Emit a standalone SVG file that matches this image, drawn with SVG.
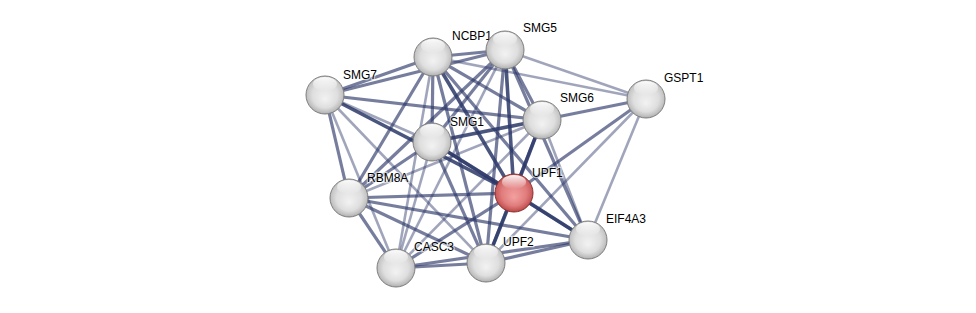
<svg xmlns="http://www.w3.org/2000/svg" width="976" height="313" viewBox="0 0 976 313">
<defs>
<radialGradient id="gGrey" cx="0.5" cy="0.42" r="0.6" fx="0.5" fy="0.62">
<stop offset="0" stop-color="#f2f2f2"/>
<stop offset="0.55" stop-color="#dedede"/>
<stop offset="0.88" stop-color="#b8b8b8"/>
<stop offset="1" stop-color="#8e8e8e"/>
</radialGradient>
<radialGradient id="gRed" cx="0.5" cy="0.42" r="0.6" fx="0.5" fy="0.62">
<stop offset="0" stop-color="#f3a0a0"/>
<stop offset="0.55" stop-color="#e07c7c"/>
<stop offset="0.88" stop-color="#c25050"/>
<stop offset="1" stop-color="#9c3434"/>
</radialGradient>
<linearGradient id="gHi" x1="0" y1="0" x2="0" y2="1">
<stop offset="0" stop-color="#ffffff" stop-opacity="0.95"/>
<stop offset="1" stop-color="#ffffff" stop-opacity="0"/>
</linearGradient>
</defs>
<style>
.e{stroke:#2c3868;fill:none;stroke-linecap:butt}
.s{stroke-width:3.6;stroke-opacity:0.85}
.m{stroke-width:3.2;stroke-opacity:0.65}
.w{stroke-width:2.6;stroke-opacity:0.45}
.node circle.b{stroke:#7e7e7e;stroke-width:1}
.node text{font-family:"Liberation Sans",Arial,sans-serif;font-size:12px;fill:#000}
.lbl{paint-order:stroke;stroke:#ffffff;stroke-width:2.5;stroke-opacity:0.6}
</style>
<rect width="976" height="313" fill="#ffffff"/>
<g id="connectors">
<line class="e m" x1="325" y1="95" x2="433" y2="57"/>
<line class="e m" x1="325" y1="95" x2="505" y2="50"/>
<line class="e m" x1="325" y1="95" x2="542" y2="120"/>
<line class="e s" x1="325" y1="95" x2="514" y2="193"/>
<line class="e w" x1="325" y1="95" x2="432" y2="142"/>
<line class="e m" x1="325" y1="95" x2="349" y2="198"/>
<line class="e w" x1="325" y1="95" x2="396" y2="268"/>
<line class="e w" x1="325" y1="95" x2="486" y2="263"/>
<line class="e m" x1="433" y1="57" x2="505" y2="50"/>
<line class="e w" x1="433" y1="57" x2="646" y2="99"/>
<line class="e m" x1="433" y1="57" x2="542" y2="120"/>
<line class="e m" x1="433" y1="57" x2="432" y2="142"/>
<line class="e s" x1="433" y1="57" x2="514" y2="193"/>
<line class="e m" x1="433" y1="57" x2="349" y2="198"/>
<line class="e w" x1="433" y1="57" x2="396" y2="268"/>
<line class="e m" x1="433" y1="57" x2="486" y2="263"/>
<line class="e m" x1="433" y1="57" x2="588" y2="240"/>
<line class="e w" x1="505" y1="50" x2="646" y2="99"/>
<line class="e m" x1="505" y1="50" x2="542" y2="120"/>
<line class="e m" x1="505" y1="50" x2="432" y2="142"/>
<line class="e s" x1="505" y1="50" x2="514" y2="193"/>
<line class="e m" x1="505" y1="50" x2="349" y2="198"/>
<line class="e m" x1="505" y1="50" x2="486" y2="263"/>
<line class="e w" x1="505" y1="50" x2="396" y2="268"/>
<line class="e m" x1="505" y1="50" x2="588" y2="240"/>
<line class="e m" x1="646" y1="99" x2="542" y2="120"/>
<line class="e m" x1="646" y1="99" x2="514" y2="193"/>
<line class="e w" x1="646" y1="99" x2="486" y2="263"/>
<line class="e w" x1="646" y1="99" x2="588" y2="240"/>
<line class="e s" x1="542" y1="120" x2="432" y2="142"/>
<line class="e s" x1="542" y1="120" x2="514" y2="193"/>
<line class="e w" x1="542" y1="120" x2="349" y2="198"/>
<line class="e w" x1="542" y1="120" x2="396" y2="268"/>
<line class="e m" x1="542" y1="120" x2="486" y2="263"/>
<line class="e w" x1="542" y1="120" x2="588" y2="240"/>
<line class="e s" x1="432" y1="142" x2="514" y2="193"/>
<line class="e m" x1="432" y1="142" x2="349" y2="198"/>
<line class="e w" x1="432" y1="142" x2="396" y2="268"/>
<line class="e m" x1="432" y1="142" x2="486" y2="263"/>
<line class="e m" x1="432" y1="142" x2="588" y2="240"/>
<line class="e m" x1="514" y1="193" x2="349" y2="198"/>
<line class="e m" x1="514" y1="193" x2="396" y2="268"/>
<line class="e s" x1="514" y1="193" x2="486" y2="263"/>
<line class="e s" x1="514" y1="193" x2="588" y2="240"/>
<line class="e m" x1="349" y1="198" x2="396" y2="268"/>
<line class="e m" x1="349" y1="198" x2="486" y2="263"/>
<line class="e m" x1="349" y1="198" x2="588" y2="240"/>
<line class="e m" x1="396" y1="268" x2="486" y2="263"/>
<line class="e m" x1="396" y1="268" x2="588" y2="240"/>
<line class="e m" x1="486" y1="263" x2="588" y2="240"/>
</g>
<g id="node-SMG7" class="node"><circle class="b" cx="325" cy="95" r="19" fill="url(#gGrey)"/><ellipse cx="325" cy="84" rx="12" ry="7" fill="url(#gHi)"/><text class="lbl" x="343" y="79">SMG7</text></g>
<g id="node-NCBP1" class="node"><circle class="b" cx="433" cy="57" r="19" fill="url(#gGrey)"/><ellipse cx="433" cy="46" rx="12" ry="7" fill="url(#gHi)"/><text class="lbl" x="452" y="40">NCBP1</text></g>
<g id="node-SMG5" class="node"><circle class="b" cx="505" cy="50" r="19" fill="url(#gGrey)"/><ellipse cx="505" cy="39" rx="12" ry="7" fill="url(#gHi)"/><text class="lbl" x="523" y="32">SMG5</text></g>
<g id="node-GSPT1" class="node"><circle class="b" cx="646" cy="99" r="19" fill="url(#gGrey)"/><ellipse cx="646" cy="88" rx="12" ry="7" fill="url(#gHi)"/><text class="lbl" x="664" y="82">GSPT1</text></g>
<g id="node-SMG6" class="node"><circle class="b" cx="542" cy="120" r="19" fill="url(#gGrey)"/><ellipse cx="542" cy="109" rx="12" ry="7" fill="url(#gHi)"/><text class="lbl" x="560" y="102">SMG6</text></g>
<g id="node-SMG1" class="node"><circle class="b" cx="432" cy="142" r="19" fill="url(#gGrey)"/><ellipse cx="432" cy="131" rx="12" ry="7" fill="url(#gHi)"/><text class="lbl" x="450" y="126">SMG1</text></g>
<g id="node-UPF1" class="node"><circle class="b" cx="514" cy="193" r="19" fill="url(#gRed)" style="stroke:#8a3030"/><ellipse cx="514" cy="182" rx="12" ry="7" fill="url(#gHi)"/><text class="lbl" x="532" y="177">UPF1</text></g>
<g id="node-RBM8A" class="node"><circle class="b" cx="349" cy="198" r="19" fill="url(#gGrey)"/><ellipse cx="349" cy="187" rx="12" ry="7" fill="url(#gHi)"/><text class="lbl" x="367" y="182">RBM8A</text></g>
<g id="node-EIF4A3" class="node"><circle class="b" cx="588" cy="240" r="19" fill="url(#gGrey)"/><ellipse cx="588" cy="229" rx="12" ry="7" fill="url(#gHi)"/><text class="lbl" x="606" y="223">EIF4A3</text></g>
<g id="node-UPF2" class="node"><circle class="b" cx="486" cy="263" r="19" fill="url(#gGrey)"/><ellipse cx="486" cy="252" rx="12" ry="7" fill="url(#gHi)"/><text class="lbl" x="503" y="246">UPF2</text></g>
<g id="node-CASC3" class="node"><circle class="b" cx="396" cy="268" r="19" fill="url(#gGrey)"/><ellipse cx="396" cy="257" rx="12" ry="7" fill="url(#gHi)"/><text class="lbl" x="414" y="251">CASC3</text></g>
</svg>
